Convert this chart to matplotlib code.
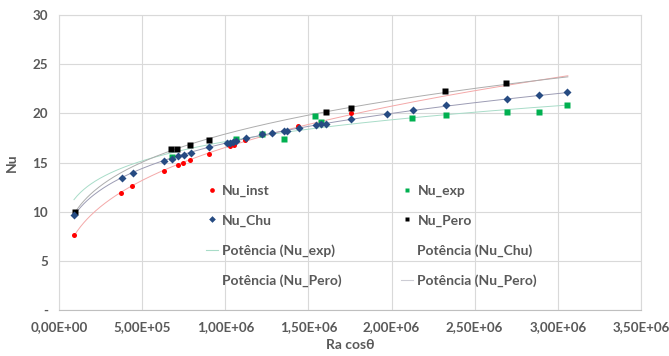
import matplotlib
matplotlib.use("Agg")
import matplotlib.pyplot as plt
from matplotlib.lines import Line2D
from matplotlib.ticker import FuncFormatter, MultipleLocator
import numpy as np

plt.rcParams["font.family"] = ["Lato", "DejaVu Sans"]

# values (x in Ra cos(theta), y in Nu)
inst_x = [0.09e6, 0.373e6, 0.44e6, 0.631e6, 0.713e6, 0.748e6, 0.79e6, 0.90e6,
          1.03e6, 1.05e6, 1.12e6, 1.28e6, 1.44e6, 1.756e6]
inst_y = [7.6, 11.9, 12.6, 14.1, 14.7, 15.0, 15.3, 15.9, 16.65, 16.8, 17.25,
          18.05, 18.7, 20.0]

chu_x = [0.09e6, 0.38e6, 0.445e6, 0.633e6, 0.68e6, 0.716e6, 0.75e6, 0.796e6,
         0.904e6, 1.008e6, 1.03e6, 1.045e6, 1.062e6, 1.126e6, 1.222e6, 1.28e6,
         1.353e6, 1.373e6, 1.443e6, 1.543e6, 1.573e6, 1.605e6, 1.756e6,
         1.974e6, 2.127e6, 2.325e6, 2.692e6, 2.885e6, 3.057e6]
chu_y = [9.7, 13.4, 13.95, 15.2, 15.4, 15.7, 15.8, 16.0, 16.55, 16.95, 17.0,
         17.1, 17.2, 17.45, 17.85, 18.0, 18.2, 18.25, 18.5, 18.85, 18.9, 18.95,
         19.45, 19.95, 20.3, 20.8, 21.5, 21.9, 22.2]

exp_x = [0.68e6, 1.062e6, 1.222e6, 1.353e6, 1.541e6, 1.573e6, 2.125e6,
         2.325e6, 2.692e6, 2.885e6, 3.057e6]
exp_y = [15.6, 17.4, 17.85, 17.35, 19.7, 19.1, 19.5, 19.85, 20.15, 20.15, 20.8]

pero_x = [0.096e6, 0.673e6, 0.711e6, 0.79e6, 0.902e6, 1.603e6, 1.756e6,
          2.321e6, 2.688e6]
pero_y = [9.95, 16.35, 16.35, 16.8, 17.3, 20.1, 20.5, 22.3, 23.05]

TXT = "#595959"
GRID = "#D9D9D9"


def power_fit(x, y, xs):
    # Excel-style power trendline: least squares in log-log
    b, lna = np.polyfit(np.log(x), np.log(y), 1)
    return np.exp(lna) * np.power(xs, b)


fig = plt.figure(figsize=(6.69, 3.56), dpi=100)
ax = fig.add_axes([59 / 669, 46 / 356, 582 / 669, 295 / 356])

xs = np.linspace(0.09e6, 3.06e6, 300)
ax.plot(xs, power_fit(inst_x, inst_y, xs), color="#F4A8A8", lw=0.7, zorder=2)
ax.plot(xs, power_fit(exp_x, exp_y, xs), color="#A8DCC8", lw=0.7, zorder=2)
ax.plot(xs, power_fit(chu_x, chu_y, xs), color="#9C9CB4", lw=0.7, zorder=2)
ax.plot(xs, power_fit(pero_x, pero_y, xs), color="#ADADAD", lw=0.7, zorder=2)

ax.plot(inst_x, inst_y, "o", color="#FF0000", ms=3.6, mec="none", zorder=3)
ax.plot(exp_x, exp_y, "s", color="#00B050", ms=4.2, mec="none", zorder=3)
ax.plot(chu_x, chu_y, "D", color="#264B82", ms=4.2, mec="none", zorder=4)
ax.plot(pero_x, pero_y, "s", color="#000000", ms=4.4, mec="none", zorder=3)

ax.set_xlim(0, 3.5e6)
ax.set_ylim(0, 30)
ax.xaxis.set_major_locator(MultipleLocator(0.5e6))
ax.yaxis.set_major_locator(MultipleLocator(5))
ax.xaxis.set_major_formatter(FuncFormatter(lambda v, p: f"{v:.2E}".replace(".", ",")))
ax.yaxis.set_major_formatter(FuncFormatter(lambda v, p: "-" if v == 0 else f"{v:.0f}"))
ax.grid(True, color=GRID, lw=0.8)
ax.set_axisbelow(True)
for s in ax.spines.values():
    s.set_color(GRID)
ax.spines["bottom"].set_color("#BFBFBF")
ax.tick_params(length=0, colors=TXT, labelsize=9.6, pad=8)
for lab in ax.get_xticklabels() + ax.get_yticklabels():
    lab.set_fontweight("bold")

ax.set_xlabel("Ra cosθ", color=TXT, fontsize=10, fontweight="bold", labelpad=4)
ax.set_ylabel("Nu", color=TXT, fontsize=10, fontweight="bold", labelpad=10)

handles = [
    Line2D([], [], ls="none", marker="o", color="#FF0000", ms=3.4, mec="none"),
    Line2D([], [], ls="none", marker="D", color="#264B82", ms=3.4, mec="none"),
    Line2D([], [], color="#A8DCC8", lw=0.8),
    Line2D([], [], color="none"),
    Line2D([], [], ls="none", marker="s", color="#00B050", ms=3.4, mec="none"),
    Line2D([], [], ls="none", marker="s", color="#000000", ms=3.4, mec="none"),
    Line2D([], [], color="none"),
    Line2D([], [], color="#CCCCD4", lw=0.8),
]
labels = ["Nu_inst", "Nu_Chu", "Potência (Nu_exp)", "Potência (Nu_Pero)",
          "Nu_exp", "Nu_Pero", "Potência (Nu_Chu)", "Potência (Nu_Pero)"]
leg = ax.legend(handles, labels, ncol=2, loc="upper left",
                bbox_to_anchor=(134 / 582, (310 - 172) / 295), frameon=False,
                fontsize=10, handlelength=0.9, handletextpad=0.3,
                labelspacing=1.27, columnspacing=4.25)
for t in leg.get_texts():
    t.set_color(TXT)
    t.set_fontweight("bold")

fig.savefig("out.png", dpi=100)
